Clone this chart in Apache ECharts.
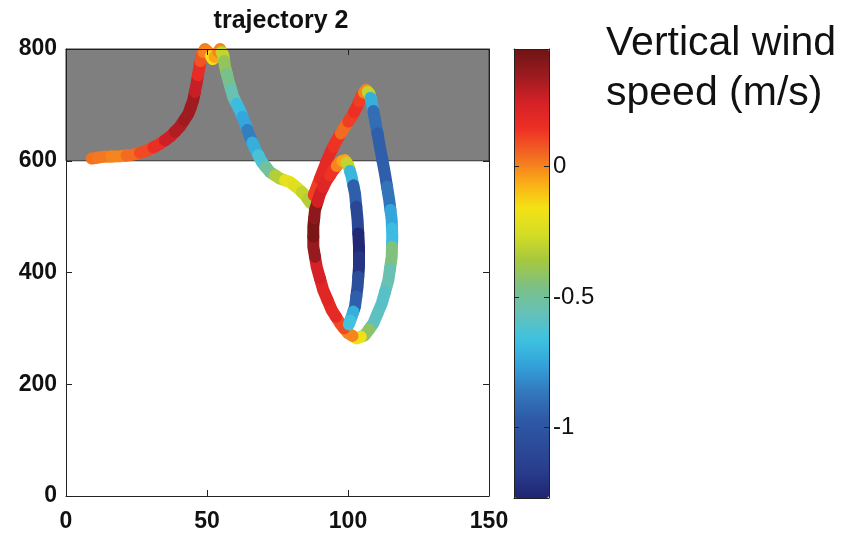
<!DOCTYPE html>
<html>
<head>
<meta charset="utf-8">
<script src="https://cdn.jsdelivr.net/npm/echarts@6/dist/echarts.min.js"></script>
<style>html,body{margin:0;padding:0;background:#fff;}#c{width:861px;height:540px;}</style>
</head>
<body>
<div id="c"></div>
<script>
// Trajectory 2: horizontal position (x), height (y), vertical wind speed (w, m/s)
const xs = [9.1,13.2,19.1,23.9,28.6,33.3,36.9,40.4,43.4,45.1,46.3,47.3,48.1,49.3,50.8,52.0,53.4,54.6,55.8,56.4,57.6,59.3,61.7,63.5,65.2,67.0,69.4,72.3,75.9,79.4,82.4,84.8,86.8,
  88.9,91.2,93.6,96.0,98.9,101.3,103.1,104.9,106.4,107.6,
  108.4,109.6,111.3,113.1,114.6,115.5,115.7,115.5,114.3,112.0,109.0,106.0,103.1,100.1,97.2,
  94.2,91.2,88.9,87.7,87.7,88.3,90.1,92.4,94.8,97.2,98.9,100.1,
  101.3,102.5,103.4,103.9,103.9,103.4,102.5,101.3,100.3];
const ys = [604,607,608,611,618,630,643,661,684,708,738,768,789,800,792,782,790,800,789,768,744,714,690,667,643,622,598,580,568,562,550,538,524,
  553,583,613,637,661,679,696,717,727,720,
  705,673,625,577,530,494,464,428,386,345,309,288,282,291,309,
  333,369,410,446,482,512,541,565,583,598,601,592,
  571,541,494,446,410,375,339,321,307];
const ws = [0.03,0.02,0.0,0.04,0.1,0.16,0.26,0.31,0.34,0.34,0.27,0.17,0.08,0.01,0.0,-0.15,-0.05,0.0,-0.3,-0.4,-0.47,-0.55,-0.68,-0.75,-0.85,-0.72,-0.63,-0.5,-0.33,-0.2,-0.22,-0.3,-0.33,
  0.12,0.18,0.18,0.14,0.04,0.12,0.15,0.12,0.0,-0.3,
  -0.72,-0.9,-0.95,-0.95,-0.88,-0.75,-0.68,-0.45,-0.55,-0.6,-0.58,-0.42,-0.18,0.0,0.1,
  0.18,0.2,0.24,0.36,0.42,0.38,0.25,0.2,0.14,0.0,-0.05,-0.3,
  -0.7,-0.95,-1.1,-1.25,-1.2,-1.05,-0.95,-0.72,-0.65];
// shaded layer (height range)
const bandLow = 600, bandHigh = 800;
// axis ranges and ticks
const xTicks = [0, 50, 100, 150];
const yTicks = [0, 200, 400, 600, 800];
const cbMin = -1.27, cbMax = 0.45;
const cbTicks = [0, -0.5, -1];
// colour scale (low -> high), evenly spaced over [cbMin, cbMax]
const jetColors = ['#1f2470','#283d8d','#2b4c99','#2e5aa7','#3378bd','#33a1da','#3dc2e1','#66c1b8','#7cc086',
  '#a6c83d','#d4dd25','#f5e214','#faa917','#f26822','#ee2f24','#d42027','#9b1b1f','#6e1414'];

const data = xs.map((x, i) => [x, ys[i], ws[i]]);
const n = data.length;
const font = 'Liberation Sans, Arial, sans-serif';

const chart = echarts.init(document.getElementById('c'), null, {renderer: 'canvas'});
const axisLine = {show: true, onZero: false, lineStyle: {color: '#222', width: 1}};
const tick = {show: true, inside: true, length: 6, lineStyle: {color: '#222'}};
const mainLabel = {fontFamily: font, fontSize: 23, fontWeight: 'bold', color: '#111'};
chart.setOption({
  animation: false,
  backgroundColor: '#fff',
  title: {text: 'trajectory 2', left: 276, top: 4, textAlign: 'center',
    textStyle: {fontFamily: font, fontSize: 25, fontWeight: 'bold', color: '#111'}},
  grid: [
    {left: 66, top: 49, width: 423, height: 447},
    {left: 514, top: 49, width: 35, height: 449, z: 10}
  ],
  xAxis: [
    {gridIndex: 0, type: 'value', min: xTicks[0], max: xTicks[xTicks.length-1], interval: 50, position: 'bottom', z: 5,
      axisLine, axisTick: tick, axisLabel: Object.assign({margin: 14}, mainLabel), splitLine: {show: false}},
    {gridIndex: 0, type: 'value', min: xTicks[0], max: xTicks[xTicks.length-1], interval: 50, position: 'top', z: 5,
      axisLine, axisTick: tick, axisLabel: {show: false}, splitLine: {show: false}},
    {gridIndex: 1, type: 'value', min: 0, max: 1, position: 'bottom', z: 10,
      axisLine, axisTick: {show: false}, axisLabel: {show: false}, splitLine: {show: false}},
    {gridIndex: 1, type: 'value', min: 0, max: 1, position: 'top', z: 10,
      axisLine, axisTick: {show: false}, axisLabel: {show: false}, splitLine: {show: false}}
  ],
  yAxis: [
    {gridIndex: 0, type: 'value', min: yTicks[0], max: yTicks[yTicks.length-1], interval: 200, position: 'left', z: 5,
      axisLine, axisTick: tick, axisLabel: Object.assign({margin: 9}, mainLabel), splitLine: {show: false}},
    {gridIndex: 0, type: 'value', min: yTicks[0], max: yTicks[yTicks.length-1], interval: 200, position: 'right', z: 5,
      axisLine, axisTick: tick, axisLabel: {show: false}, splitLine: {show: false}},
    {gridIndex: 1, type: 'value', min: cbMin, max: cbMax, position: 'right', z: 10,
      axisLine, axisTick: {show: true, inside: true, length: 5, customValues: cbTicks, lineStyle: {color: '#222'}},
      axisLabel: {fontFamily: font, fontSize: 24, color: '#111', margin: 4, customValues: cbTicks}, splitLine: {show: false}},
    {gridIndex: 1, type: 'value', min: cbMin, max: cbMax, position: 'left', z: 10,
      axisLine, axisTick: {show: true, inside: true, length: 5, customValues: cbTicks, lineStyle: {color: '#222'}},
      axisLabel: {show: false}, splitLine: {show: false}}
  ],
  visualMap: {
    type: 'continuous', seriesIndex: 1, dimension: 2, min: cbMin, max: cbMax,
    left: 514, top: 49, itemWidth: 35, itemHeight: 449, padding: 0,
    calculable: false, realtime: false, hoverLink: false, text: null,
    inRange: {color: jetColors}
  },
  series: [
    {type: 'scatter', xAxisIndex: 0, yAxisIndex: 0, data: [], z: 1,
      markArea: {silent: true, itemStyle: {color: '#7f7f7f', borderColor: '#333', borderWidth: 1},
        data: [[{xAxis: xTicks[0], yAxis: bandLow}, {xAxis: xTicks[xTicks.length-1], yAxis: bandHigh}]]}},
    {type: 'custom', xAxisIndex: 0, yAxisIndex: 0, data: data, z: 3, clip: false,
      renderItem: function (params, api) {
        const i = params.dataIndex;
        const p = api.coord([xs[i], ys[i]]);
        const pr = i > 0 ? api.coord([xs[i-1], ys[i-1]]) : p;
        const nx = i < n - 1 ? api.coord([xs[i+1], ys[i+1]]) : p;
        const a = [(pr[0] + p[0]) / 2, (pr[1] + p[1]) / 2];
        const b = [(nx[0] + p[0]) / 2, (nx[1] + p[1]) / 2];
        return {type: 'polyline', shape: {points: [a, p, b]},
          style: {stroke: api.visual('color'), fill: null, lineWidth: 12, lineCap: 'round', lineJoin: 'round'}};
      }}
  ],
  graphic: [
    {type: 'text', left: 606, top: 23, style: {text: 'Vertical wind', fontFamily: font, fontSize: 41, fill: '#111'}},
    {type: 'text', left: 606, top: 73, style: {text: 'speed (m/s)', fontFamily: font, fontSize: 41, fill: '#111'}}
  ]
});
</script>
</body>
</html>
